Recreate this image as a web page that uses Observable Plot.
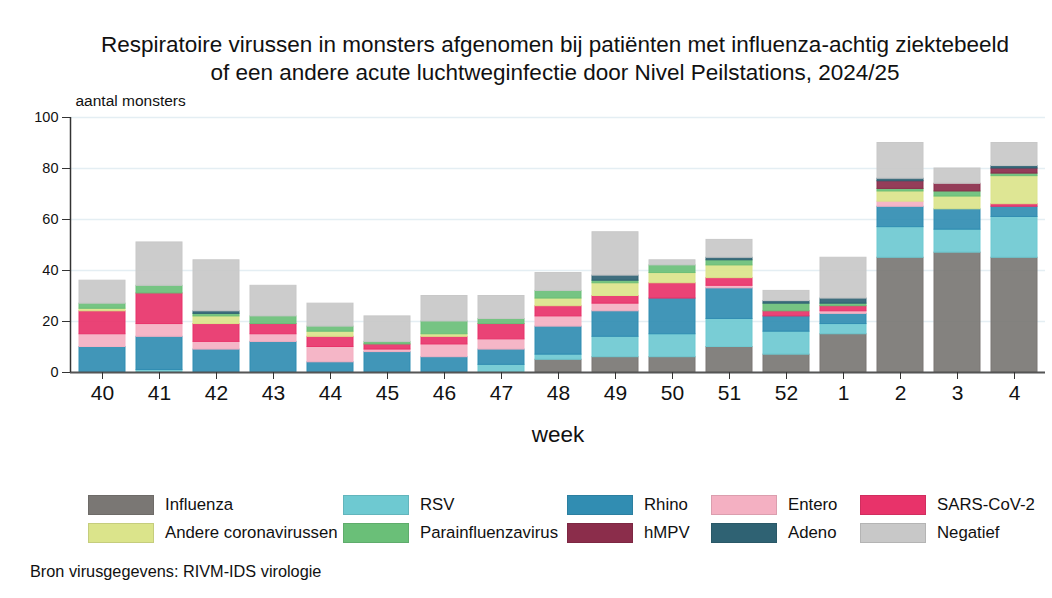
<!DOCTYPE html>
<html><head><meta charset="utf-8">
<script src="https://cdn.jsdelivr.net/npm/d3@7"></script>
<script src="https://cdn.jsdelivr.net/npm/@observablehq/plot@0.6"></script>
<style>
body{margin:0;background:#fff;font-family:"Liberation Sans",Arial,sans-serif;}
#wrap{position:relative;width:1052px;height:598px;overflow:hidden;}
#title{position:absolute;left:58px;top:31px;width:994px;text-align:center;font-size:22.5px;line-height:28px;color:#111;}
#chart{position:absolute;left:0;top:88px;}
.leg{position:absolute;display:flex;align-items:center;font-size:16.8px;color:#111;}
.sw{width:66px;height:20px;margin-right:11px;box-sizing:border-box;}
#cap{position:absolute;left:30px;top:562px;font-size:16.3px;color:#111;}
</style></head><body>
<div id="wrap">
<div id="title">Respiratoire virussen in monsters afgenomen bij patiënten met influenza-achtig ziektebeeld<br>of een andere acute luchtweginfectie door Nivel Peilstations, 2024/25</div>
<div id="chart"></div>
<div id="legend"></div>
<div id="cap">Bron virusgegevens: RIVM-IDS virologie</div>
</div>
<script>
const weeks = ["40","41","42","43","44","45","46","47","48","49","50","51","52","1","2","3","4"];
const series = ["Influenza","RSV","Rhino","Entero","SARS-CoV-2","Andere coronavirussen","Parainfluenzavirus","hMPV","Adeno","Negatief"];
const colors = ["#7a7774","#6ec9d1","#318db2","#f4b0c2","#e8336a","#dbe48b","#6abf78","#8b2d4b","#2f6273","#c8c8c8"];
const influenza = [0,0,0,0,0,0,0,0,5,6,6,10,7,15,45,47,45];
const rsv       = [0,1,0,0,0,0,0,3,2,8,9,11,9,4,12,9,16];
const rhino     = [10,13,9,12,4,8,6,6,11,10,14,12,6,4,8,8,4];
const entero    = [5,5,3,3,6,1,5,4,4,3,0,1,0,1,2,0,0];
const sars      = [9,12,7,4,4,2,3,6,4,3,6,3,2,2,0,0,1];
const corona    = [1,0,3,0,2,0,1,0,3,5,4,5,0,0,4,5,11];
const para      = [2,3,1,3,2,1,5,2,3,1,3,2,3,1,1,2,1];
const hmpv      = [0,0,0,0,0,0,0,0,0,0,0,0,0,0,3,3,2];
const adeno     = [0,0,1,0,0,0,0,0,0,2,0,1,1,2,1,0,1];
const negatief  = [9,17,20,12,9,10,10,9,7,17,2,7,4,16,14,6,9];
const yTicks = [0,20,40,60,80,100];

const values = [influenza,rsv,rhino,entero,sars,corona,para,hmpv,adeno,negatief];
const data = [];
series.forEach((s,i)=>weeks.forEach((w,j)=>data.push({week:w, series:s, value:values[i][j]})));

const chart = Plot.plot({
  width:1052, height:372,
  marginLeft:70, marginRight:7, marginTop:29, marginBottom:88,
  style:{fontFamily:"'Liberation Sans',Arial,sans-serif", background:"#fff", color:"#111"},
  x:{domain:weeks, paddingInner:0.2, paddingOuter:0.03, label:null},
  y:{domain:[0,100], label:null},
  color:{domain:series, range:colors},
  marks:[
    Plot.gridY(yTicks,{stroke:"#e4eef3", strokeOpacity:1, strokeWidth:1.5}),
    Plot.barY(data,{x:"week", y:"value", fill:"series", stroke:"series", strokeWidth:1, fillOpacity:0.92, order:series, z:"series"}),
    Plot.ruleY([0],{stroke:"#555", strokeWidth:2}),
    Plot.axisY(yTicks,{tickSize:8, stroke:"#333", fontSize:14.5, tickPadding:4, label:null}),
    Plot.axisX({tickSize:7, fontSize:21, tickPadding:6, label:null, stroke:"#333"}),
    Plot.text(["aantal monsters"],{frameAnchor:"top-left", dx:5, dy:-23, fontSize:15.5, textAnchor:"start"}),
    Plot.text(["week"],{frameAnchor:"bottom", dy:69, fontSize:22.5})
  ]
});
const ns = "http://www.w3.org/2000/svg";
const line = document.createElementNS(ns,"line");
line.setAttribute("x1",70.5);line.setAttribute("x2",70.5);
line.setAttribute("y1",29);line.setAttribute("y2",284);
line.setAttribute("stroke","#333");line.setAttribute("stroke-width","1.5");
chart.appendChild(line);
document.getElementById("chart").appendChild(chart);

const legPos = [[88,505],[343,505],[567,505],[711,505],[860,505],[88,533],[343,533],[567,533],[711,533],[860,533]];
const leg = document.getElementById("legend");
series.forEach((s,i)=>{
  const d=document.createElement("div");d.className="leg";
  d.style.left=legPos[i][0]+"px";d.style.top=(legPos[i][1]-10)+"px";
  const sw=document.createElement("div");sw.className="sw";
  sw.style.background=colors[i];sw.style.border="1px solid "+d3.color(colors[i]).darker(0.3);
  const t=document.createElement("span");t.textContent=s;
  d.appendChild(sw);d.appendChild(t);leg.appendChild(d);
});
</script>
</body></html>
